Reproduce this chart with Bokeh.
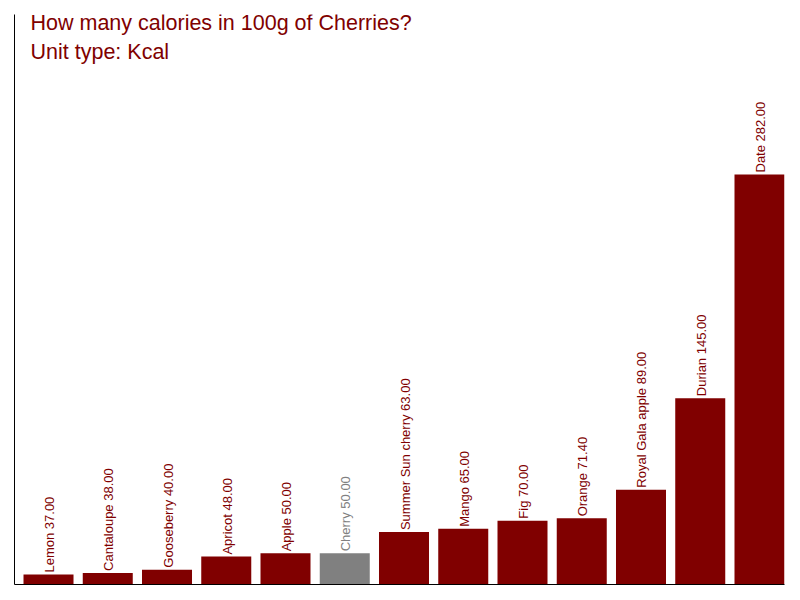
import math
from bokeh.plotting import figure
from bokeh.models import ColumnDataSource, Range1d, Label, FixedTicker
from bokeh.core.properties import value
from bokeh.embed import file_html
from bokeh.resources import INLINE

fruits = ["Lemon", "Cantaloupe", "Gooseberry", "Apricot", "Apple", "Cherry",
          "Summer Sun cherry", "Mango", "Fig", "Orange", "Royal Gala apple",
          "Durian", "Date"]
kcal = [37, 38, 40, 48, 50, 50, 63, 65, 70, 71.4, 89, 145, 282]
highlight = "Cherry"
title_line1 = "How many calories in 100g of Cherries?"
title_line2 = "Unit type: Kcal"

RED = "#800000"
GREY = "#808080"

xs = list(range(len(fruits)))
colors = [GREY if f == highlight else RED for f in fruits]
labels = [f"{f} {v:.2f}" for f, v in zip(fruits, kcal)]

src = ColumnDataSource(dict(x=xs, top=kcal, color=colors, label=labels))

p = figure(width=792, height=592, output_backend="svg", toolbar_location=None,
           x_range=Range1d(-0.574, 12.422), y_range=Range1d(30.9, 380),
           min_border_left=14, min_border_right=8, min_border_top=14, min_border_bottom=8)
p.grid.visible = False
p.outline_line_color = None
for ax in [p.xaxis[0], p.yaxis[0]]:
    ax.ticker = FixedTicker(ticks=[])
    ax.major_tick_line_color = None
    ax.minor_tick_line_color = None
    ax.major_tick_out = 0
    ax.major_tick_in = 0
    ax.minor_tick_out = 0
    ax.major_label_standoff = 0
    ax.axis_line_color = "black"
    ax.axis_line_width = 1

p.vbar(x="x", top="top", bottom=0, width=0.844, fill_color="color",
       line_color=None, source=src)
p.text(x="x", y="top", text="label", angle=math.pi / 2, text_align="left",
       text_baseline="middle", text_font_size="13px", text_color="color",
       text_font=value("Liberation Sans"), x_offset=1, y_offset=-2, source=src)

p.add_layout(Label(x=16, y=562, x_units="screen", y_units="screen", text=title_line1,
                   text_font_size="21.5px", text_color=RED, text_font="Liberation Sans",
                   text_baseline="alphabetic"))
p.add_layout(Label(x=16, y=533, x_units="screen", y_units="screen", text=title_line2,
                   text_font_size="21.5px", text_color=RED, text_font="Liberation Sans",
                   text_baseline="alphabetic"))

open("out.html", "w").write(file_html(p, INLINE))
